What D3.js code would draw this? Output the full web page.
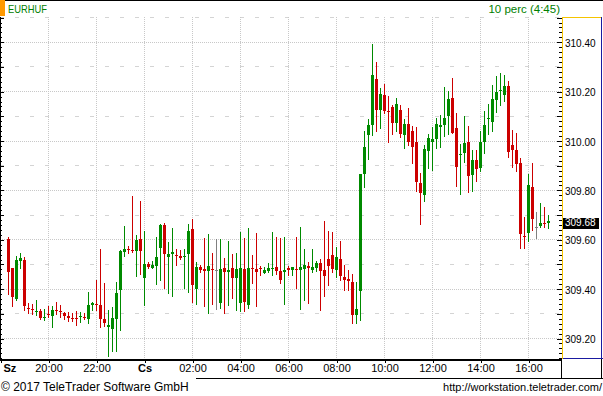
<!DOCTYPE html>
<html>
<head>
<meta charset="utf-8">
<script src="https://cdn.jsdelivr.net/npm/d3@7"></script>
<style>
  html, body { margin: 0; padding: 0; background: #fff; overflow: hidden; }
  svg { display: block; font-family: "Liberation Sans", Arial, sans-serif; }
</style>
</head>
<body>
<svg id="chart" width="603" height="396"></svg>
<script>
// EURHUF, 10 perc gyertyak (Sz 18:20 - Cs 16:50)
var symbol = "EURHUF";
var period = "10 perc (4:45)";
var firstBar = new Date(2017, 2, 15, 18, 20);
var barMinutes = 10;

var open = [
  309.602, 309.486, 309.361, 309.515, 309.518, 309.325, 309.321, 309.309, 309.312, 309.286,
  309.301, 309.293, 309.316, 309.312, 309.302, 309.293, 309.284, 309.284, 309.289, 309.289,
  309.280, 309.336, 309.340, 309.336, 309.278, 309.248, 309.240, 309.280, 309.397, 309.551,
  309.563, 309.560, 309.556, 309.603, 309.445, 309.502, 309.486, 309.494, 309.568, 309.660,
  309.530, 309.543, 309.539, 309.535, 309.530, 309.543, 309.644, 309.401, 309.490, 309.482,
  309.474, 309.482, 309.478, 309.344, 309.486, 309.470, 309.486, 309.445, 309.344, 309.482,
  309.336, 309.486, 309.482, 309.486, 309.466, 309.474, 309.482, 309.490, 309.474, 309.470,
  309.486, 309.478, 309.482, 309.478, 309.482, 309.494, 309.478, 309.486, 309.506, 309.478,
  309.522, 309.539, 309.478, 309.522, 309.449, 309.443, 309.429, 309.295, 309.394, 309.867,
  310.025, 310.065, 310.252, 310.126, 310.187, 310.122, 310.138, 310.074, 310.126, 310.025,
  310.070, 310.041, 309.997, 309.830, 309.782, 309.960, 309.997, 310.009, 310.055, 310.063,
  310.102, 310.175, 310.053, 309.944, 309.952, 309.997, 309.863, 309.924, 309.891, 309.997,
  310.090, 310.078, 310.167, 310.203, 310.187, 310.224, 309.984, 309.964, 309.911, 309.616,
  309.628, 309.814, 309.652, 309.656, 309.668, 309.668
];
var high = [
  309.612, 309.486, 309.535, 309.547, 309.530, 309.344, 309.340, 309.356, 309.319, 309.320,
  309.332, 309.332, 309.348, 309.336, 309.309, 309.308, 309.302, 309.312, 309.308, 309.305,
  309.389, 309.348, 309.437, 309.563, 309.424, 309.316, 309.329, 309.429, 309.559, 309.656,
  309.575, 309.778, 309.620, 309.757, 309.636, 309.510, 309.514, 309.612, 309.664, 309.668,
  309.591, 309.648, 309.563, 309.559, 309.563, 309.664, 309.684, 309.510, 309.498, 309.607,
  309.624, 309.547, 309.603, 309.603, 309.526, 309.595, 309.543, 309.547, 309.632, 309.607,
  309.648, 309.539, 309.628, 309.494, 309.490, 309.506, 309.632, 309.612, 309.607, 309.612,
  309.494, 309.490, 309.612, 309.652, 309.563, 309.510, 309.563, 309.514, 309.522, 309.676,
  309.636, 309.632, 309.571, 309.595, 309.498, 309.478, 309.462, 309.429, 309.867, 310.041,
  310.090, 310.394, 310.321, 310.215, 310.232, 310.183, 310.147, 310.175, 310.147, 310.090,
  310.134, 310.061, 310.057, 309.871, 309.984, 310.029, 310.057, 310.094, 310.106, 310.220,
  310.203, 310.256, 310.114, 309.988, 310.102, 310.061, 309.964, 309.964, 310.041, 310.122,
  310.151, 310.228, 310.264, 310.276, 310.268, 310.244, 310.045, 310.033, 309.932, 309.693,
  309.867, 309.911, 309.713, 309.749, 309.733, 309.701
];
var low = [
  309.381, 309.332, 309.358, 309.487, 309.317, 309.305, 309.301, 309.297, 309.280, 309.276,
  309.289, 309.248, 309.298, 309.289, 309.280, 309.272, 309.272, 309.256, 309.268, 309.278,
  309.264, 309.316, 309.317, 309.248, 309.251, 309.129, 309.151, 309.151, 309.235, 309.535,
  309.545, 309.551, 309.453, 309.462, 309.336, 309.486, 309.484, 309.421, 309.437, 309.405,
  309.385, 309.372, 309.498, 309.522, 309.405, 309.389, 309.348, 309.340, 309.470, 309.332,
  309.304, 309.340, 309.320, 309.324, 309.304, 309.336, 309.364, 309.316, 309.312, 309.312,
  309.324, 309.425, 309.332, 309.458, 309.465, 309.470, 309.458, 309.462, 309.425, 309.340,
  309.458, 309.458, 309.405, 309.320, 309.356, 309.344, 309.470, 309.474, 309.316, 309.372,
  309.417, 309.470, 309.449, 309.437, 309.397, 309.397, 309.264, 309.264, 309.275, 309.815,
  309.929, 310.025, 310.041, 310.053, 310.114, 309.997, 310.029, 310.041, 310.017, 309.972,
  309.984, 309.911, 309.798, 309.664, 309.757, 309.891, 309.883, 309.972, 309.976, 310.021,
  310.029, 310.031, 309.818, 309.786, 309.916, 309.794, 309.798, 309.839, 309.879, 309.952,
  310.029, 310.041, 310.118, 310.147, 310.163, 309.936, 309.895, 309.879, 309.567, 309.567,
  309.595, 309.640, 309.607, 309.652, 309.652, 309.648
];
var close = [
  309.471, 309.367, 309.518, 309.526, 309.333, 309.321, 309.317, 309.313, 309.284, 309.289,
  309.297, 309.316, 309.312, 309.308, 309.293, 309.284, 309.280, 309.281, 309.293, 309.284,
  309.336, 309.344, 309.336, 309.280, 309.264, 309.255, 309.283, 309.385, 309.555, 309.563,
  309.559, 309.556, 309.599, 309.556, 309.502, 309.490, 309.498, 309.530, 309.660, 309.543,
  309.543, 309.551, 309.535, 309.526, 309.535, 309.636, 309.417, 309.490, 309.478, 309.474,
  309.494, 309.478, 309.478, 309.482, 309.470, 309.478, 309.445, 309.482, 309.486, 309.348,
  309.486, 309.482, 309.470, 309.482, 309.478, 309.486, 309.486, 309.474, 309.437, 309.478,
  309.478, 309.490, 309.478, 309.490, 309.498, 309.486, 309.490, 309.506, 309.474, 309.453,
  309.494, 309.482, 309.530, 309.453, 309.437, 309.434, 309.295, 309.320, 309.867, 309.976,
  310.065, 310.268, 310.126, 310.191, 310.122, 310.118, 310.074, 310.151, 310.029, 310.070,
  309.997, 309.976, 309.834, 309.790, 309.968, 310.013, 310.009, 310.070, 310.063, 310.094,
  310.171, 310.033, 309.895, 309.948, 309.993, 309.859, 309.924, 309.887, 309.997, 310.065,
  310.094, 310.171, 310.199, 310.207, 310.224, 309.956, 309.964, 309.907, 309.624, 309.612,
  309.822, 309.684, 309.652, 309.668, 309.664, 309.676
];
var lastPrice = "309.68";

// tengelyek
var yTicks = [309.2, 309.4, 309.6, 309.8, 310.0, 310.2, 310.4];
var yHalfTicks = [309.3, 309.5, 309.7, 309.9, 310.1, 310.3, 310.5];
var xTickTimes = [
  new Date(2017, 2, 15, 18, 0), new Date(2017, 2, 15, 20, 0), new Date(2017, 2, 15, 22, 0),
  new Date(2017, 2, 16, 0, 0), new Date(2017, 2, 16, 2, 0), new Date(2017, 2, 16, 4, 0),
  new Date(2017, 2, 16, 6, 0), new Date(2017, 2, 16, 8, 0), new Date(2017, 2, 16, 10, 0),
  new Date(2017, 2, 16, 12, 0), new Date(2017, 2, 16, 14, 0), new Date(2017, 2, 16, 16, 0)
];
var xTickLabels = ["Sz", "20:00", "22:00", "Cs", "02:00", "04:00", "06:00",
                   "08:00", "10:00", "12:00", "14:00", "16:00"];
var dayLabels = ["Sz", "Cs"];

var green = "#008a00", red = "#cc0000", gray = "#808080";
var gridColor = "#c8c8c8";

var svg = d3.select("#chart");
var plot = { left: 0, top: 17, right: 562, bottom: 359 };

var x = d3.scaleTime()
  .domain([new Date(2017, 2, 15, 18, 0), new Date(2017, 2, 16, 18, 0)])
  .range([1, 577]);
var y = d3.scaleLinear()
  .domain([309.2, 310.4])
  .range([338.5, 42.3]);

svg.append("rect").attr("width", 603).attr("height", 396).attr("fill", "#fff");

svg.append("clipPath").attr("id", "clip")
  .append("rect")
  .attr("x", plot.left).attr("y", plot.top)
  .attr("width", plot.right - plot.left).attr("height", plot.bottom - plot.top);

// racs
var grid = svg.append("g").attr("clip-path", "url(#clip)").attr("shape-rendering", "crispEdges");
grid.selectAll("line.major").data(yTicks).enter().append("line")
  .attr("x1", plot.left).attr("x2", plot.right)
  .attr("y1", function (d) { return Math.floor(y(d)) + 0.5; })
  .attr("y2", function (d) { return Math.floor(y(d)) + 0.5; })
  .attr("stroke", gridColor).attr("stroke-dasharray", "1,1");
grid.selectAll("line.half").data(yHalfTicks).enter().append("line")
  .attr("x1", plot.left).attr("x2", plot.right)
  .attr("y1", function (d) { return Math.floor(y(d)) + 0.5; })
  .attr("y2", function (d) { return Math.floor(y(d)) + 0.5; })
  .attr("stroke", "#d4d4d4").attr("stroke-dasharray", "4,11");
grid.selectAll("line.vert").data(xTickTimes.slice(1)).enter().append("line")
  .attr("x1", function (d) { return Math.round(x(d)) - 0.5; })
  .attr("x2", function (d) { return Math.round(x(d)) - 0.5; })
  .attr("y1", plot.top).attr("y2", plot.bottom)
  .attr("stroke", gridColor).attr("stroke-dasharray", "1,1");

// gyertyak
var bars = open.map(function (o, i) {
  return {
    t: d3.timeMinute.offset(firstBar, i * barMinutes),
    o: o, h: high[i], l: low[i], c: close[i]
  };
});

function cx(d) { return Math.round(x(d.t)) - 0.5; }

var candles = svg.append("g")
  .attr("clip-path", "url(#clip)")
  .attr("shape-rendering", "crispEdges")
  .selectAll("g").data(bars).enter().append("g")
  .attr("fill", function (d) { return d.c > d.o ? green : (d.c < d.o ? red : gray); });

candles.append("rect")
  .attr("x", function (d) { return cx(d) - 0.5; })
  .attr("width", 1)
  .attr("y", function (d) { return Math.round(y(d.h)); })
  .attr("height", function (d) { return Math.round(y(d.l)) - Math.round(y(d.h)) + 1; });

candles.append("rect")
  .attr("x", function (d) { return cx(d) - 1.5; })
  .attr("width", 3)
  .attr("y", function (d) { return Math.round(y(Math.max(d.o, d.c))); })
  .attr("height", function (d) {
    return Math.max(1, Math.round(y(Math.min(d.o, d.c))) - Math.round(y(Math.max(d.o, d.c))));
  });

// arfolyam tengely jelolok, bal es jobb oldalon
var minorTicks = d3.range(0, 70).map(function (i) { return 309.12 + i * 0.02; });
var ticks = svg.append("g").attr("shape-rendering", "crispEdges").attr("stroke", "#000");
minorTicks.forEach(function (v) {
  var yy = Math.round(y(v)) + 0.5;
  var len = Math.abs(Math.round(v * 100) % 10) < 0.5 ? 5 : 3;
  ticks.append("line").attr("x1", plot.right - len).attr("x2", plot.right).attr("y1", yy).attr("y2", yy);
  ticks.append("line").attr("x1", 0).attr("x2", len - 1).attr("y1", yy).attr("y2", yy);
});

// keretek
var frame = svg.append("g").attr("shape-rendering", "crispEdges");
frame.append("rect").attr("x", 0).attr("y", 0).attr("width", 603).attr("height", 1).attr("fill", "#000");
frame.append("rect").attr("x", 0).attr("y", plot.top).attr("width", 1).attr("height", plot.bottom - plot.top + 2).attr("fill", "#000");
frame.append("rect").attr("x", 0).attr("y", 0).attr("width", 5).attr("height", 16).attr("fill", "#ff9900");
frame.append("rect").attr("x", 0).attr("y", plot.bottom).attr("width", plot.right).attr("height", 2).attr("fill", "#000");
frame.append("rect").attr("x", 0).attr("y", 378).attr("width", 603).attr("height", 1).attr("fill", "#000");
frame.append("rect").attr("x", plot.right - 1).attr("y", plot.bottom).attr("width", 1).attr("height", 19).attr("fill", "#000");
frame.append("rect").attr("x", 601).attr("y", plot.bottom).attr("width", 1).attr("height", 19).attr("fill", "#000");
// kijelolt arfolyam tengely
frame.append("rect").attr("x", plot.right).attr("y", plot.top).attr("width", 1).attr("height", plot.bottom - plot.top).attr("fill", "#f5c400");
frame.append("rect").attr("x", plot.right).attr("y", plot.top).attr("width", 40).attr("height", 1).attr("fill", "#f5c400");
frame.append("rect").attr("x", 601).attr("y", plot.top).attr("width", 1).attr("height", plot.bottom - plot.top).attr("fill", "#1a1aa0");
frame.append("rect").attr("x", plot.right + 1).attr("y", plot.bottom - 1).attr("width", 40).attr("height", 1).attr("fill", "#1a1aa0");

// arfolyam feliratok
svg.append("g").selectAll("text").data(yTicks).enter().append("text")
  .attr("x", 565)
  .attr("y", function (d) { return y(d) + 4.5; })
  .attr("font-size", "10px")
  .attr("fill", "#000")
  .text(function (d) { return d3.format(".2f")(d); });

// utolso arfolyam
var lastY = y(close[close.length - 1]);
svg.append("rect")
  .attr("x", plot.right + 1).attr("y", Math.round(lastY) - 3)
  .attr("width", 36).attr("height", 11)
  .attr("fill", "#000");
svg.append("text")
  .attr("x", 565).attr("y", lastY + 4.5)
  .attr("font-size", "10px").attr("fill", "#fff")
  .text(lastPrice);

// ido tengely
var xAxis = d3.axisBottom(x)
  .tickValues(xTickTimes)
  .tickSizeInner(4)
  .tickSizeOuter(0)
  .tickFormat(function (d, i) { return xTickLabels[i]; });

var ax = svg.append("g")
  .attr("transform", "translate(-0.5," + plot.bottom + ")")
  .call(xAxis);
ax.select(".domain").remove();
ax.selectAll("line").attr("stroke", "#000").attr("shape-rendering", "crispEdges");
ax.selectAll("text")
  .attr("y", 13).attr("dy", null)
  .attr("font-family", "Liberation Sans, Arial, sans-serif")
  .attr("font-size", "11px")
  .attr("fill", "#000")
  .attr("font-weight", function (d, i) { return dayLabels.indexOf(xTickLabels[i]) >= 0 ? "bold" : null; });
ax.selectAll(".tick").filter(function (d, i) { return i === 0; })
  .select("text").attr("text-anchor", "start").attr("x", 2.5);

// cimsor
svg.append("text")
  .attr("x", 8).attr("y", 13)
  .attr("font-size", "11.5px").attr("fill", "#008000")
  .attr("textLength", 39).attr("lengthAdjust", "spacingAndGlyphs")
  .text(symbol);
svg.append("text")
  .attr("x", 560).attr("y", 13)
  .attr("text-anchor", "end")
  .attr("font-size", "11.5px").attr("fill", "#008000")
  .text(period);

// lablec
svg.append("rect").attr("x", 0).attr("y", 377).attr("width", 196).attr("height", 19).attr("fill", "#fff");
svg.append("text")
  .attr("x", 1).attr("y", 391)
  .attr("font-size", "12px").attr("fill", "#000")
  .text("\u00a9 2017 TeleTrader Software GmbH");
svg.append("text")
  .attr("x", 602).attr("y", 391)
  .attr("text-anchor", "end")
  .attr("font-size", "11px").attr("fill", "#000")
  .text("http://workstation.teletrader.com/");
</script>
</body>
</html>
